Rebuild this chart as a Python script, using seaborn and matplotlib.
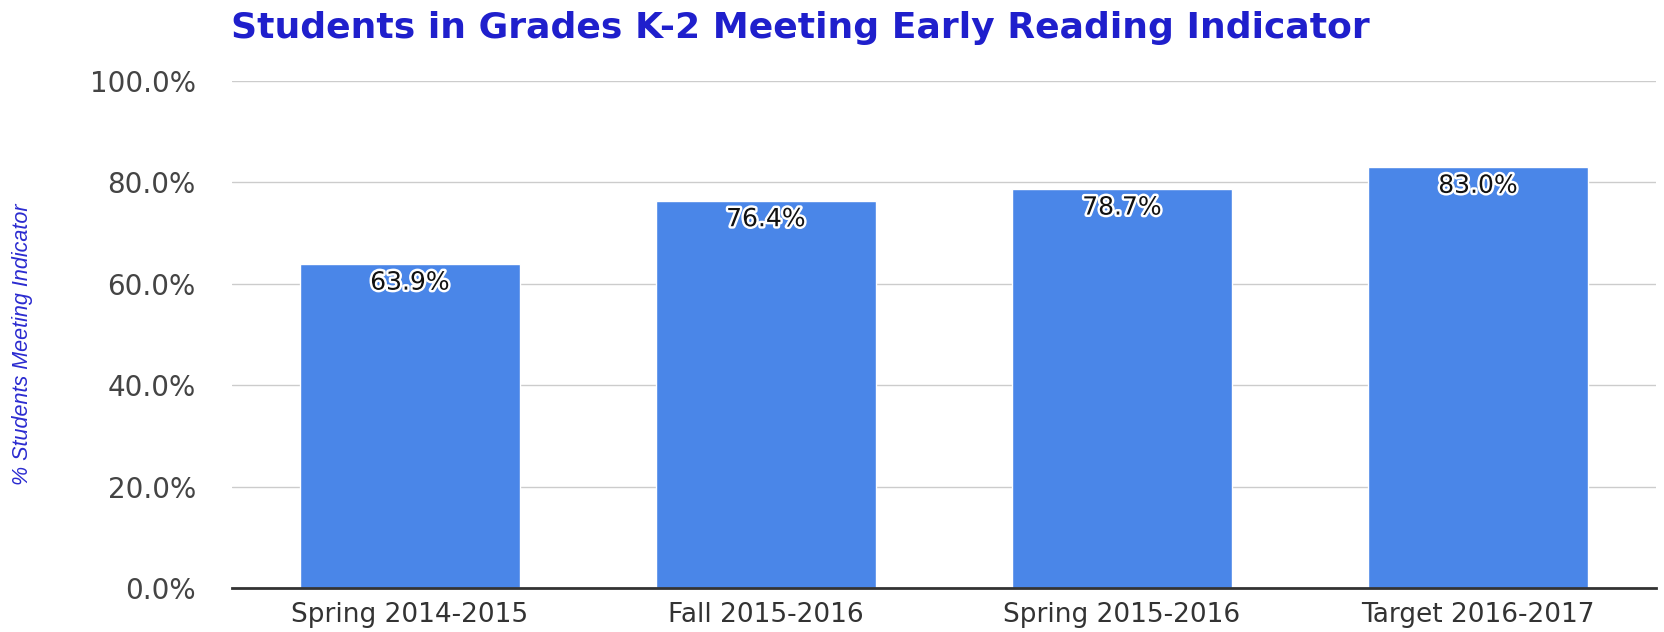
import matplotlib
matplotlib.use("Agg")
import pandas as pd
import seaborn as sns
from matplotlib import pyplot as plt
from matplotlib import patheffects as pe
from matplotlib.ticker import FuncFormatter

periods = ["Spring 2014-2015", "Fall 2015-2016", "Spring 2015-2016", "Target 2016-2017"]
pct_meeting = [63.9, 76.4, 78.7, 83.0]
y_ticks = [0, 20, 40, 60, 80, 100]

title = "Students in Grades K-2 Meeting Early Reading Indicator"
y_label = "% Students Meeting Indicator"


def plot():
    sns.set_style("white")
    fig = plt.figure(figsize=(16.65, 6.32), dpi=100)
    ax = fig.add_axes([0.1393, 0.0696, 0.8553, 0.8022])

    df = pd.DataFrame({"Period": periods, "Pct": pct_meeting})
    sns.barplot(data=df, x="Period", y="Pct", color="#4a86e8", saturation=1,
                width=0.62, ax=ax, zorder=2)

    labels = ax.bar_label(ax.containers[0], fmt="{:.1f}%", padding=-22,
                          fontsize=18, color="#111111", family="DejaVu Sans")
    for t in labels:
        t.set_path_effects([pe.withStroke(linewidth=3.5, foreground="white")])

    ax.set_ylim(0, 100)
    ax.set_xlim(-0.5, len(periods) - 0.5)
    ax.set_yticks(y_ticks)
    ax.yaxis.set_major_formatter(FuncFormatter(lambda v, _: f"{v:.1f}%"))
    ax.grid(axis="y", color="#cccccc", linewidth=1, zorder=0)
    ax.set_axisbelow(True)
    for side in ["top", "right", "left"]:
        ax.spines[side].set_visible(False)
    ax.spines["bottom"].set_color("#333333")
    ax.spines["bottom"].set_linewidth(2)
    ax.spines["bottom"].set_zorder(3)

    ax.tick_params(axis="y", length=0, pad=26, labelsize=20, labelcolor="#444444")
    ax.tick_params(axis="x", length=0, pad=10, labelsize=19, labelcolor="#333333")
    for t in ax.get_xticklabels() + ax.get_yticklabels():
        t.set_family("DejaVu Sans")

    ax.set_xlabel("")
    ax.set_ylabel("")
    fig.text(0.0135, 0.455, y_label, rotation=90, ha="center", va="center",
             fontsize=15.5, style="italic", color="#2b2bd0", family="Liberation Sans")
    fig.text(0.1387, 0.955, title, ha="left", va="center", fontsize=26,
             fontweight="bold", color="#1f1fcc", family="DejaVu Sans")

    plt.savefig("out.png", dpi=100)


if __name__ == '__main__':
    plot()
